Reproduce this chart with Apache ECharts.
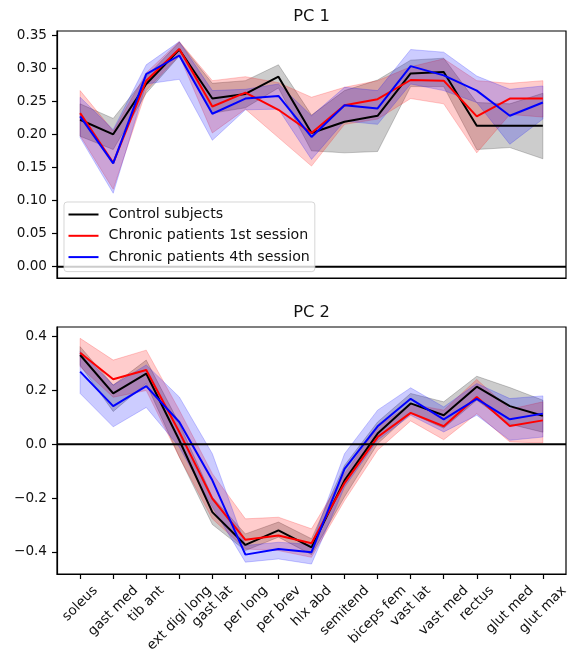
<!DOCTYPE html>
<html>
<head>
<meta charset="utf-8">
<script src="https://cdn.jsdelivr.net/npm/echarts@6/dist/echarts.min.js"></script>
<style>
  html, body { margin: 0; padding: 0; background: #fff; }
  #chart { width: 568px; height: 649px; }
</style>
</head>
<body>
<div id="chart"></div>
<script>
// Muscle names along the shared x axis
const muscles = ['soleus', 'gast med', 'tib ant', 'ext digi long', 'gast lat', 'per long', 'per brev',
  'hlx abd', 'semitend', 'biceps fem', 'vast lat', 'vast med', 'rectus', 'glut med', 'glut max'];

const groupNames = ['Control subjects', 'Chronic patients 1st session', 'Chronic patients 4th session'];

// PC 1 loadings: mean and shaded band (low / high) per group
const pc1Control     = [0.222, 0.200, 0.276, 0.328, 0.254, 0.261, 0.287, 0.202, 0.219, 0.228, 0.292, 0.294, 0.213, 0.213, 0.213];
const pc1ControlLow  = [0.197, 0.177, 0.262, 0.318, 0.232, 0.240, 0.270, 0.175, 0.172, 0.174, 0.272, 0.272, 0.177, 0.180, 0.163];
const pc1ControlHigh = [0.246, 0.224, 0.287, 0.339, 0.277, 0.281, 0.305, 0.229, 0.266, 0.282, 0.312, 0.315, 0.248, 0.246, 0.262];

const pc1First     = [0.232, 0.157, 0.281, 0.329, 0.242, 0.263, 0.237, 0.202, 0.244, 0.253, 0.282, 0.281, 0.227, 0.254, 0.254];
const pc1FirstLow  = [0.198, 0.117, 0.266, 0.319, 0.202, 0.238, 0.195, 0.152, 0.215, 0.223, 0.254, 0.246, 0.172, 0.230, 0.226];
const pc1FirstHigh = [0.266, 0.205, 0.293, 0.340, 0.281, 0.287, 0.278, 0.256, 0.271, 0.281, 0.302, 0.314, 0.281, 0.277, 0.281];

const pc1Fourth     = [0.227, 0.156, 0.291, 0.319, 0.231, 0.254, 0.258, 0.196, 0.244, 0.239, 0.303, 0.289, 0.266, 0.228, 0.248];
const pc1FourthLow  = [0.195, 0.111, 0.276, 0.283, 0.191, 0.237, 0.238, 0.162, 0.220, 0.215, 0.276, 0.266, 0.248, 0.185, 0.223];
const pc1FourthHigh = [0.256, 0.207, 0.305, 0.340, 0.266, 0.268, 0.276, 0.228, 0.271, 0.266, 0.328, 0.324, 0.288, 0.268, 0.273];

// PC 2 loadings
const pc2Control     = [0.332, 0.189, 0.263, 0.015, -0.252, -0.374, -0.320, -0.383, -0.134, 0.040, 0.152, 0.108, 0.214, 0.142, 0.106];
const pc2ControlLow  = [0.294, 0.122, 0.226, -0.047, -0.298, -0.395, -0.345, -0.410, -0.195, 0.002, 0.115, 0.060, 0.164, 0.075, 0.045];
const pc2ControlHigh = [0.363, 0.220, 0.313, 0.077, -0.196, -0.333, -0.289, -0.351, -0.078, 0.083, 0.189, 0.158, 0.253, 0.211, 0.164];

const pc2First     = [0.340, 0.242, 0.276, 0.046, -0.202, -0.355, -0.339, -0.368, -0.144, 0.027, 0.117, 0.067, 0.176, 0.068, 0.089];
const pc2FirstLow  = [0.288, 0.175, 0.200, -0.047, -0.277, -0.389, -0.395, -0.420, -0.209, -0.022, 0.087, 0.017, 0.114, 0.009, 0.005];
const pc2FirstHigh = [0.394, 0.313, 0.350, 0.127, -0.109, -0.277, -0.271, -0.314, -0.109, 0.065, 0.150, 0.127, 0.241, 0.130, 0.158];

const pc2Fourth     = [0.270, 0.142, 0.216, 0.083, -0.134, -0.410, -0.389, -0.401, -0.091, 0.067, 0.169, 0.093, 0.169, 0.093, 0.114];
const pc2FourthLow  = [0.189, 0.065, 0.137, -0.010, -0.233, -0.438, -0.426, -0.445, -0.159, 0.015, 0.108, 0.046, 0.108, 0.015, 0.027];
const pc2FourthHigh = [0.345, 0.220, 0.295, 0.176, -0.035, -0.376, -0.364, -0.372, -0.035, 0.127, 0.210, 0.139, 0.226, 0.170, 0.180];

// Tick positions on the y axes
const pc1Ticks = [0, 0.05, 0.10, 0.15, 0.20, 0.25, 0.30, 0.35];
const pc2Ticks = [-0.4, -0.2, 0, 0.2, 0.4];

const lineColors = ['#000000', '#ff0000', '#0000ff'];
const bandColors = ['rgba(0,0,0,0.2)', 'rgba(255,0,0,0.2)', 'rgba(0,0,255,0.2)'];
const FONT = '"DejaVu Sans", "Noto Sans", sans-serif';
const tickFont = 13.6;

const chart = echarts.init(document.getElementById('chart'), null, { renderer: 'canvas' });

const xIndex = muscles.map((_, i) => i);

function xAxisFor(gridIndex, showTicks) {
  return {
    gridIndex, type: 'value', min: -0.7, max: 14.7,
    axisLine: { show: true, onZero: false, lineStyle: { color: '#000', width: 1.2 } },
    axisTick: { show: showTicks, customValues: xIndex, length: 5, lineStyle: { color: '#000', width: 1.2 } },
    axisLabel: { show: false },
    splitLine: { show: false }
  };
}

function yAxisFor(gridIndex, min, max, ticks, fmt) {
  return {
    gridIndex, type: 'value', min, max,
    axisLine: { show: true, onZero: false, lineStyle: { color: '#000', width: 1.2 } },
    axisTick: { show: true, customValues: ticks, length: 5, lineStyle: { color: '#000', width: 1.2 } },
    axisLabel: {
      show: true, customValues: ticks, margin: 10, color: '#111',
      fontSize: tickFont, fontFamily: FONT, formatter: fmt
    },
    splitLine: { show: false }
  };
}

function bandSeries(name, axisIdx, low, high, color) {
  return {
    type: 'custom', name: name + ' band', xAxisIndex: axisIdx, yAxisIndex: axisIdx,
    silent: true, clip: true, z: 1,
    encode: { x: 0, y: [1, 2] },
    data: low.map((lo, i) => [i, lo, high[i]]),
    renderItem: function (params, api) {
      if (params.dataIndex !== 0) return null;
      const pts = [];
      for (let i = 0; i < high.length; i++) pts.push(api.coord([i, high[i]]));
      for (let i = low.length - 1; i >= 0; i--) pts.push(api.coord([i, low[i]]));
      return {
        type: 'polygon', shape: { points: pts },
        style: { fill: color, stroke: color, lineWidth: 1 }
      };
    }
  };
}

function lineSeries(name, axisIdx, values, color) {
  return {
    type: 'line', name, xAxisIndex: axisIdx, yAxisIndex: axisIdx,
    data: values.map((v, i) => [i, v]),
    showSymbol: false, symbol: 'none', silent: true, z: 3,
    lineStyle: { color, width: 2 }, itemStyle: { color },
    emphasis: { disabled: true }, animation: false
  };
}

function zeroLine(axisIdx) {
  return {
    type: 'line', name: 'zero' + axisIdx, xAxisIndex: axisIdx, yAxisIndex: axisIdx,
    data: [[-0.7, 0], [14.7, 0]], showSymbol: false, symbol: 'none', silent: true, z: 4,
    lineStyle: { color: '#000', width: 2 }, animation: false
  };
}

const pc1Groups = [[pc1Control, pc1ControlLow, pc1ControlHigh], [pc1First, pc1FirstLow, pc1FirstHigh], [pc1Fourth, pc1FourthLow, pc1FourthHigh]];
const pc2Groups = [[pc2Control, pc2ControlLow, pc2ControlHigh], [pc2First, pc2FirstLow, pc2FirstHigh], [pc2Fourth, pc2FourthLow, pc2FourthHigh]];

const series = [];
[pc1Groups, pc2Groups].forEach((groups, axisIdx) => {
  groups.forEach((g, k) => series.push(bandSeries(groupNames[k], axisIdx, g[1], g[2], bandColors[k])));
  groups.forEach((g, k) => series.push(lineSeries(groupNames[k], axisIdx, g[0], lineColors[k])));
  series.push(zeroLine(axisIdx));
});

const option = {
  animation: false,
  backgroundColor: '#fff',
  grid: [
    { left: 57, top: 31, width: 509, height: 247, show: true, borderColor: '#000', borderWidth: 1.2, backgroundColor: 'transparent' },
    { left: 57, top: 327, width: 509, height: 247, show: true, borderColor: '#000', borderWidth: 1.2, backgroundColor: 'transparent' }
  ],
  xAxis: [xAxisFor(0, false), xAxisFor(1, true)],
  yAxis: [
    yAxisFor(0, -0.017, 0.356, pc1Ticks, v => v.toFixed(2)),
    yAxisFor(1, -0.482, 0.436, pc2Ticks, v => (v < 0 ? '\u2212' : '') + Math.abs(v).toFixed(1))
  ],
  legend: {
    data: groupNames, orient: 'vertical', left: 64, top: 202,
    icon: 'rect', itemWidth: 30, itemHeight: 2, itemGap: 5.3,
    selectedMode: false,
    padding: [4.5, 5, 6.5, 4.5],
    backgroundColor: 'rgba(255,255,255,0.8)',
    borderColor: 'rgba(204,204,204,0.8)', borderWidth: 1, borderRadius: 3,
    textStyle: { fontSize: 14.2, fontFamily: FONT, color: '#111', lineHeight: 16, padding: [0, 0, 0, 5] },
    z: 10
  },
  series
};

chart.setOption(option);

// Panel titles and rotated muscle labels, positioned through the axes' own scales
const ctx = document.createElement('canvas').getContext('2d');
ctx.font = tickFont + 'px ' + FONT;
const elements = [];
const centerX = chart.convertToPixel({ xAxisIndex: 0 }, 7);
const top1 = chart.convertToPixel({ yAxisIndex: 0 }, 0.356);
const top2 = chart.convertToPixel({ yAxisIndex: 1 }, 0.436);
[['PC 1', top1], ['PC 2', top2]].forEach(([t, y]) => {
  elements.push({
    type: 'text', x: centerX, y: y - 14, silent: true,
    style: { text: t, fontSize: 16.3, fontFamily: FONT, fill: '#111',
      align: 'center', verticalAlign: 'middle', textAlign: 'center', textVerticalAlign: 'middle' }
  });
});
const bottom2 = chart.convertToPixel({ yAxisIndex: 1 }, -0.482);
muscles.forEach((m, i) => {
  const px = chart.convertToPixel({ xAxisIndex: 1 }, i);
  const w = ctx.measureText(m).width;
  const h = tickFont;
  const half = (w + h) / (2 * Math.SQRT2);
  elements.push({
    type: 'text', x: px, y: bottom2 + 9.7 + half, rotation: Math.PI / 4, silent: true,
    style: { text: m, fontSize: tickFont, fontFamily: FONT, fill: '#111',
      align: 'center', verticalAlign: 'middle', textAlign: 'center', textVerticalAlign: 'middle' }
  });
});
chart.setOption({ graphic: { elements } });
</script>
</body>
</html>
